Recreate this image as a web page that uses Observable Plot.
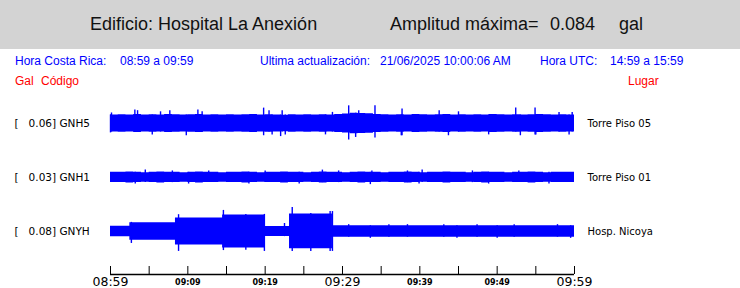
<!DOCTYPE html>
<html><head><meta charset="utf-8">
<script src="https://cdn.jsdelivr.net/npm/d3@7"></script>
<script src="https://cdn.jsdelivr.net/npm/@observablehq/plot@0.6"></script>
<style>
body{margin:0;background:#fff;}
#page{position:relative;width:740px;height:288px;overflow:hidden;font-family:"Liberation Sans",Arial,sans-serif;}
#hdr{position:absolute;left:0;top:0;width:740px;height:49px;background:#d3d3d3;}
.t{position:absolute;white-space:pre;line-height:1;}
.h{font-size:18px;color:#111;top:15px}
.b{font-size:12px;color:#0000ff;top:55px}
.r{font-size:12px;color:#ff0000;top:75px}
#chart{position:absolute;left:0;top:90px;}
</style></head>
<body>
<div id="page">
  <div id="hdr"></div>
  <span class="t h" style="left:90px">Edificio: Hospital La Anexión</span>
  <span class="t h" style="left:390px">Amplitud máxima=</span>
  <span class="t h" style="left:550px">0.084</span>
  <span class="t h" style="left:619px">gal</span>
  <span class="t b" style="left:15px">Hora Costa Rica:</span>
  <span class="t b" style="left:120px">08:59 a 09:59</span>
  <span class="t b" style="left:260px">Ultima actualización:</span>
  <span class="t b" style="left:380px">21/06/2025 10:00:06 AM</span>
  <span class="t b" style="left:540px">Hora UTC:</span>
  <span class="t b" style="left:610px">14:59 a 15:59</span>
  <span class="t r" style="left:15px">Gal</span>
  <span class="t r" style="left:41px">Código</span>
  <span class="t r" style="left:628px">Lugar</span>
  <div id="chart"></div>
</div>
<script>
// Traces (top to bottom)
const traceNames = ["GNH5", "GNH1", "GNYH"];
const traceGal = ["0.06", "0.03", "0.08"];
const traceSites = ["Torre Piso 05", "Torre Piso 01", "Hosp. Nicoya"];

// Envelope half-amplitude (gal), one value per minute after 08:59 (0..60)
const gnh5Amp = [
  0.030, 0.031, 0.030, 0.032, 0.030, 0.031, 0.030, 0.032, 0.031, 0.030,
  0.031, 0.032, 0.030, 0.031, 0.030, 0.031, 0.030, 0.031, 0.032, 0.030,
  0.031, 0.030, 0.029, 0.031, 0.030, 0.031, 0.030, 0.031, 0.030, 0.032,
  0.033, 0.036, 0.035, 0.034, 0.032, 0.031, 0.030, 0.031, 0.030, 0.032,
  0.031, 0.030, 0.031, 0.032, 0.030, 0.031, 0.030, 0.031, 0.030, 0.032,
  0.031, 0.030, 0.031, 0.030, 0.031, 0.032, 0.031, 0.030, 0.031, 0.030, 0.030
];
const gnh1Amp = [
  0.018, 0.018, 0.019, 0.018, 0.017, 0.018, 0.019, 0.018, 0.018, 0.017,
  0.018, 0.019, 0.018, 0.018, 0.017, 0.018, 0.018, 0.019, 0.018, 0.017,
  0.018, 0.018, 0.019, 0.018, 0.018, 0.017, 0.018, 0.019, 0.018, 0.018,
  0.017, 0.018, 0.019, 0.018, 0.018, 0.017, 0.018, 0.018, 0.019, 0.018,
  0.017, 0.018, 0.018, 0.019, 0.018, 0.018, 0.017, 0.018, 0.019, 0.018,
  0.018, 0.017, 0.018, 0.018, 0.019, 0.018, 0.017, 0.018, 0.018, 0.018, 0.018
];
// GNYH has distinct episodes: breakpoints (minutes after 08:59) and levels
const gnyhTimes = [0, 2.5, 8.4, 14.5, 20.0, 23.15, 28.7, 60];
const gnyhAmp   = [0.0186, 0.031, 0.047, 0.058, 0.0175, 0.061, 0.020, 0.020];

// Individual peaks read from the record: minute, top (gal) and bottom (gal)
const gnh5SpikeTime = [0.13, 3.15, 3.5, 6.47, 7.67, 11.3, 11.85, 19.8, 20.5, 22.2, 28.7, 30.8, 32.1, 34.2,
  37.7, 42.5, 45.0, 52.4, 54.9, 58.0, 59.7, 0.0, 5.4, 9.8, 20.9, 22.0, 22.6, 27.8, 31.7, 37.6, 43.7, 48.9, 53.0, 55.0, 59.3];
const gnh5SpikeHi = [0.037, 0.047, 0.045, 0.041, 0.045, 0.047, 0.041, 0.054, 0.045, 0.045, 0.039, 0.062, 0.045, 0.062,
  0.051, 0.045, 0.041, 0.054, 0.054, 0.039, 0.039, 0.030, 0.030, 0.030, 0.030, 0.030, 0.030, 0.030, 0.036, 0.030, 0.030, 0.030, 0.030, 0.030, 0.030];
const gnh5SpikeLo = [-0.030, -0.030, -0.030, -0.030, -0.030, -0.030, -0.030, -0.043, -0.030, -0.030, -0.030, -0.058, -0.030, -0.051,
  -0.043, -0.030, -0.030, -0.030, -0.040, -0.030, -0.030, -0.033, -0.040, -0.043, -0.040, -0.046, -0.040, -0.040, -0.049, -0.043, -0.043, -0.040, -0.043, -0.040, -0.040];

const gnh1SpikeTime = [4.5, 8.0, 12.7, 20.0, 27.4, 29.5, 33.8, 38.4, 40.3, 46.8, 52.8, 3.2, 10.1, 17.9, 24.4, 33.6, 39.9, 48.9, 56.7];
const gnh1SpikeHi = [0.026, 0.023, 0.023, 0.023, 0.026, 0.023, 0.023, 0.023, 0.026, 0.023, 0.023, 0.018, 0.018, 0.018, 0.018, 0.018, 0.018, 0.018, 0.018];
const gnh1SpikeLo = [-0.018, -0.018, -0.018, -0.018, -0.018, -0.018, -0.018, -0.018, -0.018, -0.018, -0.018, -0.023, -0.023, -0.023, -0.023, -0.025, -0.023, -0.023, -0.023];

const gnyhSpikeTime = [2.7, 8.8, 14.6, 17.5, 19.9, 22.5, 23.5, 25.9, 28.4, 28.7, 30.8, 36.0, 38.4, 43.1, 47.4, 52.2, 57.8, 33.6, 44.8, 50.0, 59.5];
const gnyhSpikeHi = [0.032, 0.059, 0.074, 0.060, 0.060, 0.028, 0.084, 0.063, 0.070, 0.070, 0.024, 0.024, 0.024, 0.024, 0.024, 0.024, 0.024, 0.020, 0.020, 0.020, 0.020];
const gnyhSpikeLo = [-0.042, -0.070, -0.067, -0.066, -0.070, -0.018, -0.070, -0.070, -0.070, -0.070, -0.020, -0.020, -0.020, -0.020, -0.020, -0.020, -0.020, -0.024, -0.024, -0.024, -0.024];

// Time axis
const tickMinutes = [0, 5, 10, 15, 20, 25, 30, 35, 40, 45, 50, 55, 60];
const bigLabelMinutes = [0, 30, 60];
const bigLabels = ["08:59", "09:29", "09:59"];
const smallLabelMinutes = [10, 20, 40, 50];
const smallLabels = ["09:09", "09:19", "09:39", "09:49"];

// Build tables
const rows = [];
gnh5Amp.forEach((a, i) => rows.push({trace: "GNH5", t: i, amp: a}));
gnh1Amp.forEach((a, i) => rows.push({trace: "GNH1", t: i, amp: a}));
gnyhTimes.forEach((t, i) => rows.push({trace: "GNYH", t, amp: gnyhAmp[i]}));
const spikes = [];
gnh5SpikeTime.forEach((t, i) => spikes.push({trace: "GNH5", t, hi: gnh5SpikeHi[i], lo: gnh5SpikeLo[i]}));
gnh1SpikeTime.forEach((t, i) => spikes.push({trace: "GNH1", t, hi: gnh1SpikeHi[i], lo: gnh1SpikeLo[i]}));
gnyhSpikeTime.forEach((t, i) => spikes.push({trace: "GNYH", t, hi: gnyhSpikeHi[i], lo: gnyhSpikeLo[i]}));
const labels = traceNames.map((name, i) => ({name, gal: traceGal[i], site: traceSites[i]}));
const bigT = bigLabelMinutes.map((t, i) => ({t, label: bigLabels[i]}));
const smallT = smallLabelMinutes.map((t, i) => ({t, label: smallLabels[i]}));

const blue = "#0000ff";
const chart = Plot.plot({
  width: 740, height: 198,
  marginLeft: 110, marginRight: 166, marginTop: 21.5, marginBottom: 14.5,
  style: {fontFamily: "DejaVu Sans", background: "transparent", overflow: "visible"},
  x: {domain: [0, 60], axis: null},
  y: {domain: [-0.151, 0.0386], axis: null},
  fy: {domain: traceNames, padding: 0, axis: null},
  marks: [
    Plot.areaY(rows, {x: "t", y1: d => -d.amp, y2: "amp", fy: "trace", curve: "step-after", fill: blue}),
    Plot.ruleX(spikes, {x: "t", y1: "lo", y2: "hi", fy: "trace", stroke: blue, strokeWidth: 1.4}),
    Plot.text(labels, {fy: "name", y: d => 0, frameAnchor: "left", dx: -96, textAnchor: "start",
      text: d => `[\u00a0\u00a0\u00a0${d.gal}] ${d.name}`, fontSize: 10.5, fill: "#000"}),
    Plot.text(labels, {fy: "name", y: d => 0, frameAnchor: "right", dx: 13, textAnchor: "start",
      text: "site", fontSize: 10, fill: "#000"}),
    Plot.ruleY([-0.151], {y: d => d, facetAnchor: "bottom", stroke: "#000", strokeWidth: 1.5}),
    Plot.ruleX(tickMinutes, {x: d => d, facetAnchor: "bottom", insetTop: 46, stroke: "#000", strokeWidth: 1}),
    Plot.text(bigT, {x: "t", text: "label", frameAnchor: "bottom", dy: 7.5, lineAnchor: "middle",
      facetAnchor: "bottom", fontSize: 12.5, fill: "#000"}),
    Plot.text(smallT, {x: "t", text: "label", frameAnchor: "bottom", dy: 7.5, lineAnchor: "middle",
      facetAnchor: "bottom", fontSize: 8, fontWeight: "bold", fill: "#000"})
  ]
});
document.getElementById("chart").appendChild(chart);
</script>
</body></html>
